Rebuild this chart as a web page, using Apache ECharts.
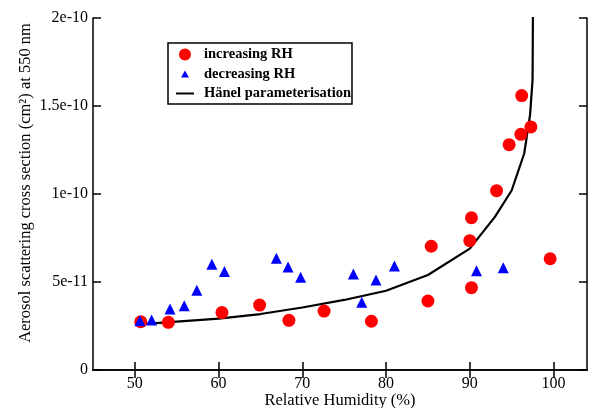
<!DOCTYPE html>
<html>
<head>
<meta charset="utf-8">
<script src="https://cdn.jsdelivr.net/npm/echarts@6/dist/echarts.min.js"></script>
<style>html,body{margin:0;padding:0;background:#fff}#c{width:590px;height:408px}</style>
</head>
<body>
<div id="c"></div>
<script>
// values in units of 1e-11 cm^2
const increasingRH_x = [50.7, 54.0, 60.4, 64.9, 68.4, 72.6, 78.25, 85.0, 85.4, 90.0, 90.2, 90.2, 93.2, 94.7, 96.1, 96.2, 97.3, 99.6];
const increasingRH_y = [2.74, 2.71, 3.26, 3.69, 2.82, 3.35, 2.77, 3.92, 7.03, 7.35, 8.65, 4.68, 10.19, 12.80, 13.39, 15.59, 13.81, 6.32];
const decreasingRH_x = [50.6, 52.0, 54.2, 55.9, 57.4, 59.2, 60.7, 66.9, 68.3, 69.8, 76.1, 77.1, 78.8, 81.0, 90.8, 94.0];
const decreasingRH_y = [2.80, 2.84, 3.47, 3.65, 4.53, 6.01, 5.59, 6.35, 5.85, 5.27, 5.45, 3.85, 5.11, 5.91, 5.64, 5.81];
const hanel_x = [50.8, 55, 60, 65, 70, 75, 80, 85, 90, 93, 95, 96.5, 97.2, 97.5, 97.55];
const hanel_y = [2.61, 2.75, 2.92, 3.18, 3.55, 3.98, 4.5, 5.4, 6.9, 8.7, 10.2, 12.3, 14.5, 16.5, 21];
const xTicks = [50, 60, 70, 80, 90, 100];
const yTicks = [0, 5, 10, 15, 20];
const yTickLabels = ['0', '5e-11', '1e-10', '1.5e-10', '2e-10'];

const zip = (a, b) => a.map((v, i) => [v, b[i]]);
const font = 'Liberation Serif';
const axisLine = { show: true, lineStyle: { color: '#000', width: 1.5 } };
const tick = { show: true, inside: true, length: 8, lineStyle: { color: '#000', width: 1.5 } };
const triIcon = 'path://M0,0 M12,12 M6,2.5 L10,9.5 L2,9.5 Z';
const lineIcon = 'path://M0,0 L20,0 L20,2.2 L0,2.2 Z';

const chart = echarts.init(document.getElementById('c'), null, { renderer: 'canvas' });
chart.setOption({
  animation: false,
  backgroundColor: '#fff',
  grid: { left: 93, right: 3, top: 18, bottom: 38, containLabel: false, outerBoundsMode: 'none' },
  xAxis: [{
    type: 'value', min: 45, max: 104, position: 'bottom',
    name: 'Relative Humidity (%)', nameLocation: 'middle', nameGap: 22, nameMoveOverlap: false,
    nameTextStyle: { fontFamily: font, fontSize: 16.5, color: '#000' },
    axisLine, axisTick: Object.assign({}, tick, { customValues: xTicks }),
    axisLabel: { customValues: xTicks, fontFamily: font, fontSize: 16, color: '#000', margin: 6 },
    splitLine: { show: false }
  }, {
    type: 'value', min: 45, max: 104, position: 'top',
    axisLine, axisTick: Object.assign({}, tick, { customValues: xTicks }),
    axisLabel: { show: false }, splitLine: { show: false }
  }],
  yAxis: [{
    type: 'value', min: 0, max: 20, interval: 5, position: 'left',
    name: 'Aerosol scattering cross section (cm²) at 550 nm', nameLocation: 'middle', nameGap: 59, nameMoveOverlap: false,
    nameTextStyle: { fontFamily: font, fontSize: 16.5, color: '#000', padding: [0, 0, 0, 22] },
    axisLine, axisTick: tick,
    axisLabel: { fontFamily: font, fontSize: 16, color: '#000', margin: 5,
      formatter: v => yTickLabels[yTicks.indexOf(v)] },
    splitLine: { show: false }
  }, {
    type: 'value', min: 0, max: 20, interval: 5, position: 'right',
    axisLine, axisTick: tick, axisLabel: { show: false }, splitLine: { show: false }
  }],
  legend: {
    orient: 'vertical', left: 168, top: 43,
    padding: [4, 1, 3, 8], itemGap: 4.5, itemWidth: 18, itemHeight: 12,
    borderColor: '#000', borderWidth: 1.5, borderRadius: 0,
    textStyle: { fontFamily: font, fontSize: 14.5, lineHeight: 14, fontWeight: 'bold', color: '#000', padding: [0, 0, 0, 5] },
    data: [
      { name: 'increasing RH', icon: 'circle' },
      { name: 'decreasing RH', icon: triIcon },
      { name: 'Hänel parameterisation', icon: lineIcon, itemStyle: { color: '#000' } }
    ]
  },
  series: [{
    name: 'Hänel parameterisation', type: 'line', data: zip(hanel_x, hanel_y),
    symbol: 'none', smooth: false, lineStyle: { color: '#000', width: 2.2 }, itemStyle: { color: '#000' },
    clip: true, z: 2
  }, {
    name: 'increasing RH', type: 'scatter', data: zip(increasingRH_x, increasingRH_y),
    symbol: 'circle', symbolSize: 13, itemStyle: { color: '#ff0000', opacity: 1 }, z: 3
  }, {
    name: 'decreasing RH', type: 'scatter', data: zip(decreasingRH_x, decreasingRH_y),
    symbol: 'triangle', symbolSize: 11, itemStyle: { color: '#0000ff', opacity: 1 }, z: 4
  }]
});
</script>
</body>
</html>
